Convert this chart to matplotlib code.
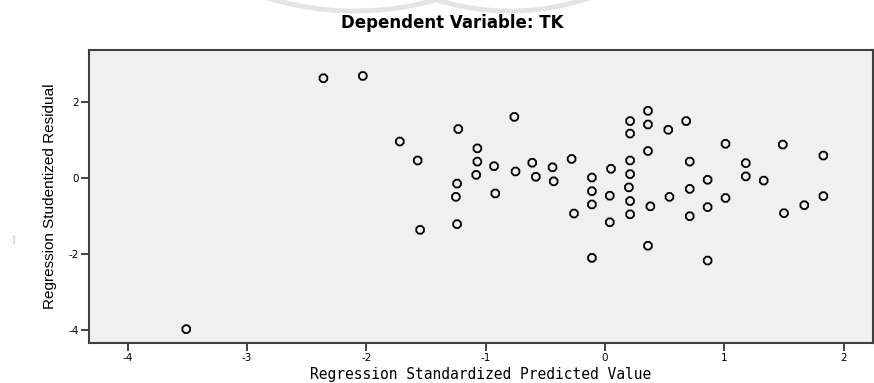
import matplotlib
matplotlib.use("Agg")
import matplotlib.pyplot as plt
from matplotlib.patches import Circle

plt.rcParams["axes.unicode_minus"] = False

# predicted (x) vs studentized residual (y)
pred = [-2.36, -2.03, -0.76, -1.23, -1.72, -1.07, -1.57, -1.07, -0.93, -0.75,
        -0.61, -0.44, -0.28, -1.08, -0.58, -0.43, -1.24, -1.25, -0.92, -0.26,
        -1.24, -1.55, -3.51,
        0.36, 0.21, 0.36, 0.53, 0.68, 0.21, 1.01, 1.49, 0.36, 1.83,
        0.21, 0.71, 1.18, 0.05, -0.11, 0.21, 0.86, 1.18, 1.33, -0.11,
        0.20, 0.71, 0.04, 0.54, 1.01, 1.83, -0.11, 0.21, 0.38, 0.86,
        1.67, 0.21, 0.71, 1.50, 0.04, 0.36, -0.11, 0.86]
resid = [2.64, 2.70, 1.62, 1.30, 0.97, 0.79, 0.47, 0.44, 0.32, 0.18,
         0.41, 0.29, 0.51, 0.09, 0.04, -0.08, -0.14, -0.49, -0.40, -0.93,
         -1.21, -1.36, -3.98,
         1.78, 1.51, 1.42, 1.28, 1.51, 1.18, 0.91, 0.89, 0.72, 0.60,
         0.47, 0.44, 0.40, 0.25, 0.02, 0.11, -0.04, 0.05, -0.06, -0.34,
         -0.24, -0.28, -0.46, -0.49, -0.52, -0.47, -0.69, -0.60, -0.74, -0.76,
         -0.71, -0.95, -1.00, -0.92, -1.16, -1.78, -2.10, -2.17]

xticks = [-4, -3, -2, -1, 0, 1, 2]
yticks = [-4, -2, 0, 2]

W, H = 874, 383
fig = plt.figure(figsize=(W / 100, H / 100), dpi=100)

# faint watermark arcs at the very top
bg = fig.add_axes([0, 0, 1, 1], zorder=-5)
bg.set_xlim(0, W)
bg.set_ylim(H, 0)
bg.axis("off")
bg.add_patch(Circle((355, -289), 300, fill=False, ec="#e4e4e4", lw=3.5))
bg.add_patch(Circle((510, -237), 248, fill=False, ec="#e4e4e4", lw=3.5))
bg.text(13, 240, "]", color="#b0b0b0", fontsize=6, ha="center", va="center")

ax = fig.add_axes([89 / W, 1 - 343 / H, (873 - 89) / W, (343 - 50) / H])
ax.set_facecolor("#f0f0f0")
ax.scatter(pred, resid, marker="8", s=36, facecolors="none",
           edgecolors="black", linewidths=1.3, zorder=3)

ax.set_xlim(-4.325, 2.246)
ax.set_ylim(-4.346, 3.385)
ax.set_xticks(xticks)
ax.set_yticks(yticks)
ax.tick_params(direction="out", length=6, width=1.2, color="#202020",
               labelsize=7.5, pad=1.5)
for s in ax.spines.values():
    s.set_color("#404040")
    s.set_linewidth(1.5)

ax.set_xlabel("Regression Standardized Predicted Value", fontsize=10.5,
              family="DejaVu Sans Mono", va="center")
ax.xaxis.set_label_coords(0.5, (343 - 375) / (343 - 50))
ax.set_ylabel("Regression Studentized Residual", fontsize=11,
              family=["Liberation Sans Narrow", "Liberation Sans"], labelpad=8)

fig.text(452 / W, 1 - 23 / H, "Dependent Variable: TK", ha="center", va="center",
         fontsize=12, fontweight="bold", family="DejaVu Sans")

fig.savefig("out.png", dpi=100)
